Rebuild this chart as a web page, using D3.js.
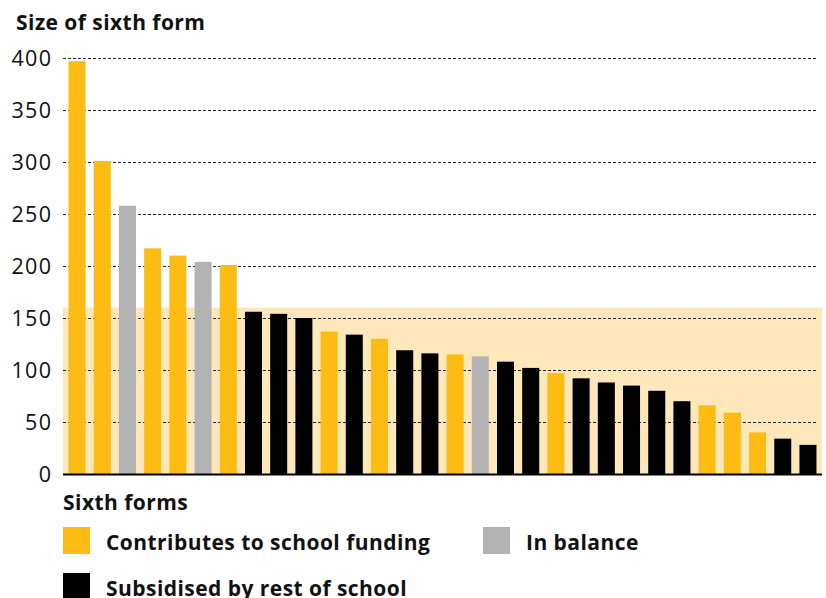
<!DOCTYPE html>
<html>
<head>
<meta charset="utf-8">
<script src="https://cdn.jsdelivr.net/npm/d3@7"></script>
<style>
  html, body { margin: 0; padding: 0; background: #fff; }
  svg { display: block; font-family: "Open Sans", "Noto Sans", sans-serif; }
</style>
</head>
<body>
<svg id="chart" width="826" height="598"></svg>
<script>
// Sixth form sizes, ordered largest to smallest
const schools = d3.range(1, 31).map(i => "S" + i);
const sizes = [397, 301, 258, 217, 210, 204, 201, 156, 154, 150,
               137, 134, 130, 119, 116, 115, 113, 108, 102, 97,
               92, 88, 85, 80, 70, 66, 59, 40, 34, 28];
// C = contributes to school funding, B = in balance, S = subsidised
const status = ["C", "C", "B", "C", "C", "B", "C", "S", "S", "S",
                "C", "S", "C", "S", "S", "C", "B", "S", "S", "C",
                "S", "S", "S", "S", "S", "C", "C", "C", "S", "S"];
const statusKeys = ["C", "B", "S"];
const statusLabels = ["Contributes to school funding", "In balance", "Subsidised by rest of school"];
const yTicks = [0, 50, 100, 150, 200, 250, 300, 350, 400];
const bandRange = [0, 160]; // shaded zone of small sixth forms

const color = d3.scaleOrdinal().domain(statusKeys).range(["#fcbc13", "#b3b3b3", "#000000"]);
const textColor = "#111";
const boldSize = 21, boldSpacing = 0.45;

const svg = d3.select("#chart");
const left = 63, right = 822, bottom = 474;

const x = d3.scaleBand().domain(schools).range([left, right])
  .paddingInner(0.325).paddingOuter(0.22);
const y = d3.scaleLinear().domain([0, 400]).range([bottom, 58]);

// Title
svg.append("text").attr("x", 16).attr("y", 30)
  .attr("font-size", boldSize).attr("font-weight", 700)
  .attr("letter-spacing", boldSpacing).attr("fill", textColor)
  .text("Size of sixth form");

// Shaded band
svg.append("rect")
  .attr("x", left).attr("width", right - left)
  .attr("y", y(bandRange[1])).attr("height", y(bandRange[0]) - y(bandRange[1]))
  .attr("fill", "#fde7bb");

// Gridlines and tick labels
const yAxis = d3.axisLeft(y).tickValues(yTicks).tickSize(0).tickPadding(0);
const ga = svg.append("g").attr("transform", `translate(${left},0)`).call(yAxis);
ga.select(".domain").remove();
ga.selectAll(".tick text")
  .attr("x", -10.5).attr("dy", "0.36em")
  .attr("font-size", 21.5).attr("letter-spacing", 1.4)
  .attr("font-family", "\"Open Sans\", \"Noto Sans\", sans-serif")
  .attr("fill", textColor);
ga.selectAll(".tick").filter(d => d > 0).append("line")
  .attr("x1", 0).attr("x2", 818 - left)
  .attr("stroke", "#222").attr("stroke-width", 1.2)
  .attr("stroke-dasharray", "3,2");

// Bars
svg.append("g").selectAll("rect")
  .data(sizes)
  .join("rect")
  .attr("x", (d, i) => x(schools[i]))
  .attr("width", x.bandwidth())
  .attr("y", d => y(d))
  .attr("height", d => y(0) - y(d))
  .attr("fill", (d, i) => color(status[i]));

// Baseline
svg.append("line")
  .attr("x1", left).attr("x2", right)
  .attr("y1", y(0) + 0.5).attr("y2", y(0) + 0.5)
  .attr("stroke", "#000").attr("stroke-width", 2.2);

// Legend
svg.append("text").attr("x", 63).attr("y", 510)
  .attr("font-size", boldSize).attr("font-weight", 700)
  .attr("letter-spacing", boldSpacing).attr("fill", textColor)
  .text("Sixth forms");

const legendPos = [[63, 527], [483, 527], [63, 573]];
const lg = svg.append("g").selectAll("g")
  .data(statusKeys)
  .join("g")
  .attr("transform", (d, i) => `translate(${legendPos[i][0]},${legendPos[i][1]})`);
lg.append("rect").attr("width", 27).attr("height", 27).attr("fill", d => color(d));
lg.append("text").attr("x", 43).attr("y", 22.5)
  .attr("font-size", boldSize).attr("font-weight", 700)
  .attr("letter-spacing", boldSpacing).attr("fill", textColor)
  .text((d, i) => statusLabels[i]);
</script>
</body>
</html>
